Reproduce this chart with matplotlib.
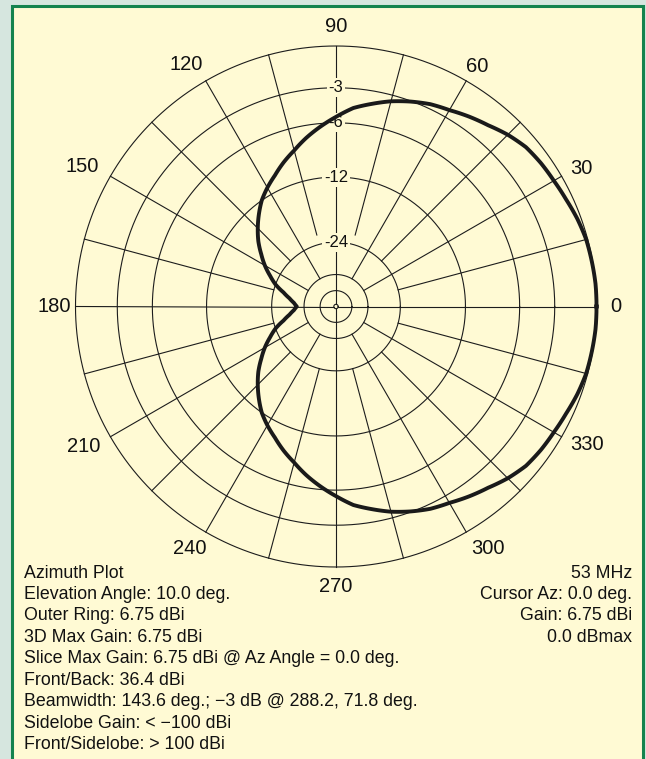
import numpy as np
import matplotlib
matplotlib.use("Agg")
import matplotlib.pyplot as plt
from matplotlib.patches import Rectangle

plt.rcParams['font.family'] = ['Liberation Sans', 'DejaVu Sans']

# ---- data ----
az_deg = [0, 5, 10, 15, 20, 25, 30, 35, 40, 45, 50, 55, 60, 65, 70, 75, 80, 85, 90,
          95, 100, 105, 110, 115, 120, 125, 130, 135, 140, 145, 150, 155, 160, 165, 170, 175,
          180, 185, 190, 195, 200, 205, 210, 215, 220, 225, 230, 235, 240, 245, 250, 255,
          260, 265, 270, 275, 280, 285, 290, 295, 300, 305, 310, 315, 320, 325, 330, 335,
          340, 345, 350, 355, 360]
gain_db = [0.0, 0.0, -0.05, -0.1, -0.25, -0.45, -0.6, -0.7, -0.85, -1.2, -1.65, -2.0, -2.38,
           -2.65, -3.05, -3.5, -4.05, -4.6, -5.45,
           -6.3, -7.2, -8.2, -9.1, -10.1, -11.0, -12.0, -13.3, -14.7, -16.2, -18.0, -19.8,
           -21.9, -24.0, -26.9, -29.3, -31.2,
           -32.5, -31.2, -29.3, -26.9, -24.0, -21.9, -19.8, -18.0, -16.2, -14.7, -13.3, -12.0,
           -11.0, -10.1, -9.1, -8.2, -7.2, -6.3,
           -5.45, -4.6, -4.05, -3.5, -3.05, -2.65, -2.38, -2.0, -1.65, -1.2, -0.85, -0.7,
           -0.6, -0.45, -0.25, -0.1, -0.05, 0.0, 0.0]
ring_db = [0, -3, -6, -12, -24, -36, -48]
ring_labels = ['-3', '-6', '-12', '-24']
ring_label_db = [-3, -6, -12, -24]
angle_ticks = [0, 30, 60, 90, 120, 150, 180, 210, 240, 270, 300, 330]

left_lines = ["Azimuth Plot",
              "Elevation Angle: 10.0 deg.",
              "Outer Ring: 6.75 dBi",
              "3D Max Gain: 6.75 dBi",
              "Slice Max Gain: 6.75 dBi @ Az Angle = 0.0 deg.",
              "Front/Back: 36.4 dBi",
              "Beamwidth: 143.6 deg.; \u22123 dB @ 288.2, 71.8 deg.",
              "Sidelobe Gain: < \u2212100 dBi",
              "Front/Sidelobe: > 100 dBi"]
right_lines = ["53 MHz", "Cursor Az: 0.0 deg.", "Gain: 6.75 dBi", "0.0 dBmax"]

# label placement offsets from the plot centre, in pixels (layout only)
tick_offsets_px = [(279.5, 0), (245, 138.5), (141.5, 240.5), (0, 280.5), (-149.5, 241.5),
                   (-254, 139.5), (-282, 0), (-252, -139.5), (-146.5, -241.5), (0, -279.5),
                   (151.5, -241.5), (251, -138.5)]


def arrl(db):
    """ARRL log scale: radius factor 0.89 per 2 dB."""
    return 0.89 ** (-np.asarray(db, dtype=float) / 2.0)


W, H = 646, 759
fig = plt.figure(figsize=(W / 100, H / 100), dpi=100)
fig.patch.set_facecolor('#d6e6df')
fig.add_artist(Rectangle((12 / W, -0.05), (643 - 12) / W, 1.05 - 6 / H,
                         transform=fig.transFigure, facecolor='#fffad4',
                         edgecolor='#14834e', linewidth=2.2, zorder=-10))

cx, cy, R = 336.0, 306.5, 260.5
ax = fig.add_axes([(cx - R) / W, (H - cy - R) / H, 2 * R / W, 2 * R / H], projection='polar')
ax.set_zorder(5)
ax.patch.set_visible(False)
ax.grid(False)
ax.set_xticks([])
ax.set_yticks([])
ax.spines['polar'].set_visible(False)
ax.set_ylim(0, 1)

gc = '#1c1c1c'
glw = 0.8
th = np.linspace(0, 2 * np.pi, 721)
for db in ring_db:
    ax.plot(th, np.full_like(th, arrl(db)), color=gc, lw=glw, clip_on=False, zorder=2)
ax.plot(th, np.full_like(th, 2.2 / R), color=gc, lw=glw, clip_on=False, zorder=2)

for a in range(0, 360, 15):
    if a % 90 == 0:
        r0 = 2.2 / R
    elif a % 30 == 0:
        r0 = float(arrl(-36))
    elif a in (75, 105):
        r0 = 74 / R
    else:
        r0 = float(arrl(-24))
    t = np.radians(a)
    ax.plot([t, t], [r0, 1.0], color=gc, lw=glw, clip_on=False, zorder=2)

for lab, db in zip(ring_labels, ring_label_db):
    ax.text(np.pi / 2, float(arrl(db)), lab, ha='center', va='center', fontsize=12,
            color='#111111', zorder=4,
            bbox=dict(boxstyle='square,pad=0.12', facecolor='#fffad4', edgecolor='none'))

for a, (dx, dy) in zip(angle_ticks, tick_offsets_px):
    ax.text(np.arctan2(dy, dx), np.hypot(dx, dy) / R, str(a), ha='center', va='center',
            fontsize=14.5, color='#111111', clip_on=False)

ln, = ax.plot(np.radians(az_deg), arrl(gain_db), color='#1a1a1a', lw=2.8, clip_on=False,
              zorder=5, solid_joinstyle='round')
ln.get_path()._interpolation_steps = 16

y0, dy = 573, 21.45
for i, s in enumerate(left_lines):
    fig.text(24 / W, 1 - (y0 + i * dy) / H, s, ha='left', va='center', fontsize=12.8,
             color='#111111')
for i, s in enumerate(right_lines):
    fig.text(632 / W, 1 - (y0 + i * dy) / H, s, ha='right', va='center', fontsize=12.8,
             color='#111111')

fig.savefig('out.png', dpi=100, facecolor=fig.get_facecolor())
